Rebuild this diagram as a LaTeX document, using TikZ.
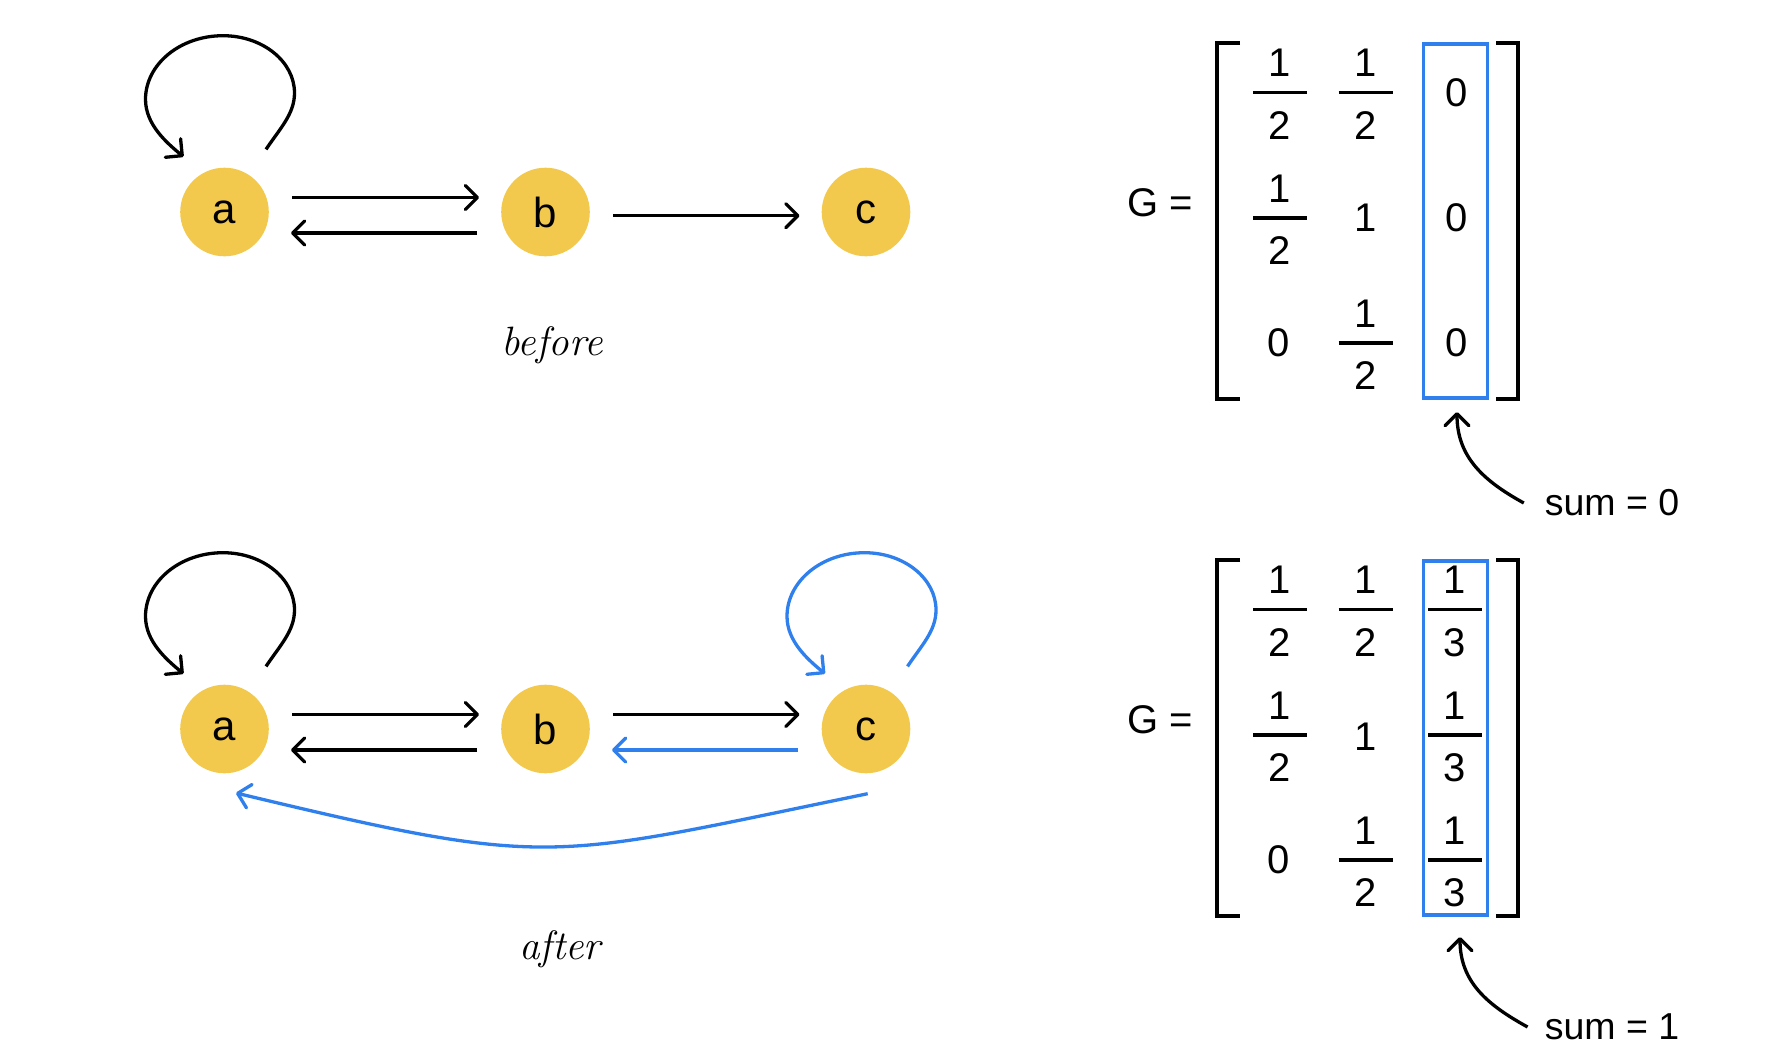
\documentclass[tikz,border=0pt]{standalone}
\usepackage{fontspec}
\newfontfamily\lib{Liberation Sans}
\usetikzlibrary{arrows.meta}
\definecolor{nodeyellow}{HTML}{F2C94C}
\definecolor{hlblue}{HTML}{2F80ED}
\tikzset{
  vert/.style={circle, fill=nodeyellow, minimum size=88.6pt, inner sep=0pt,
    font=\lib\fontsize{42}{50}\selectfont},
  conn/.style={line width=3.3pt, -{Straight Barb[length=12pt,width=24pt,round]}},
  ent/.style={inner sep=0pt, font=\lib\fontsize{40}{48}\selectfont},
  fracbar/.style={line width=3.1pt},
  bracket/.style={line width=3.5pt},
  colbox/.style={draw=hlblue, line width=3.2pt, minimum width=64pt, minimum height=354pt, inner sep=0pt},
  caption/.style={inner sep=0pt, anchor=base, font=\itshape\fontsize{41}{49}\selectfont},
  sumlabel/.style={inner sep=0pt, font=\lib\fontsize{37.5}{45}\selectfont},
}
\newcommand\myfrac[5]{%
  \node[ent] (#1n) at (#2,#3-29.5) {#4};
  \node[ent] (#1d) at (#2,#3+32.8) {#5};
  \draw[fracbar] (#2-27,#3) -- (#2+27,#3);
}
\newcommand\selfloop[2]{%
  \draw[conn,#2] ([shift={(41.5,-62.6)}]#1.center)
    .. controls +(14,-21) and +(0,21) .. ([shift={(70,-119)}]#1.center)
    .. controls +(0,-31.6) and +(39.5,0) .. ([shift={(-1.5,-176.3)}]#1.center)
    .. controls +(-42.8,0) and +(0,-35.2) .. ([shift={(-79,-112.6)}]#1.center)
    .. controls +(0,25) and +(-17,-14) .. ([shift={(-41,-55.3)}]#1.center);
}
\begin{document}
\begin{tikzpicture}[x=1pt,y=-1pt]
\useasboundingbox (0,0) rectangle (1780,1060);
% ---------- upper graph ----------
\node[vert] (a1) at (224.5,212) {a};
\node[vert] (b1) at (545.5,212) {b};
\node[vert] (c1) at (866,212) {c};
\draw[conn] ([xshift=23pt,yshift=14.5pt]a1.east) -- ([xshift=-22pt,yshift=14.5pt]b1.west);
\draw[conn] ([xshift=-24pt,yshift=-21pt]b1.west) -- ([xshift=22pt,yshift=-21pt]a1.east);
\draw[conn] ([xshift=23pt,yshift=-3.7pt]b1.east) -- ([xshift=-22pt,yshift=-3.7pt]c1.west);
\selfloop{a1}{black}
\node[caption] (before) at (552,355.5) {before};
% ---------- lower graph ----------
\node[vert] (a2) at (224.5,729) {a};
\node[vert] (b2) at (545.5,729) {b};
\node[vert] (c2) at (866,729) {c};
\draw[conn] ([xshift=23pt,yshift=14.5pt]a2.east) -- ([xshift=-22pt,yshift=14.5pt]b2.west);
\draw[conn] ([xshift=-24pt,yshift=-21pt]b2.west) -- ([xshift=22pt,yshift=-21pt]a2.east);
\draw[conn] ([xshift=23pt,yshift=14.5pt]b2.east) -- ([xshift=-22pt,yshift=14.5pt]c2.west);
\draw[conn,hlblue] ([xshift=-24pt,yshift=-21pt]c2.west) -- ([xshift=22pt,yshift=-21pt]b2.east);
\selfloop{a2}{black}
\selfloop{c2}{hlblue}
\draw[conn,hlblue] ([shift={(1.7,64.7)}]c2.center) .. controls +(-322,66) and +(320,76.7) .. ([shift={(11.5,64)}]a2.center);
\node[caption] (after) at (560,959) {after};
% ---------- upper matrix ----------
\node[ent] (G1) at (1160,203) {G =};
\draw[bracket] (1240,43) -- (1217,43) -- (1217,399) -- (1240,399);
\draw[bracket] (1496,43) -- (1518,43) -- (1518,399) -- (1496,399);
\node[colbox] (box1) at (1455.5,221) {};
\myfrac{u11}{1280}{92.4}{1}{2}
\myfrac{u12}{1365.5}{92.4}{1}{2}
\node[ent] (u13) at (1457,93) {0};
\myfrac{u21}{1280}{218}{1}{2}
\node[ent] (u22) at (1365.5,218) {1};
\node[ent] (u23) at (1457,218) {0};
\node[ent] (u31) at (1279,343) {0};
\myfrac{u32}{1365.5}{343}{1}{2}
\node[ent] (u33) at (1457,343) {0};
\node[sumlabel] (s1) at (1612,503) {sum = 0};
\draw[conn] ([xshift=-20.8pt]s1.west) .. controls +(-40,-22) and +(0,45) .. ([xshift=1.5pt,yshift=-12.5pt]box1.south);
% ---------- lower matrix ----------
\node[ent] (G2) at (1160,720) {G =};
\draw[bracket] (1240,560) -- (1217,560) -- (1217,916) -- (1240,916);
\draw[bracket] (1496,560) -- (1518,560) -- (1518,916) -- (1496,916);
\node[colbox] (box2) at (1455.5,738) {};
\myfrac{l11}{1280}{609.5}{1}{2}
\myfrac{l12}{1365.5}{609.5}{1}{2}
\myfrac{l13}{1455}{609.5}{1}{3}
\myfrac{l21}{1280}{735}{1}{2}
\node[ent] (l22) at (1365.5,737) {1};
\myfrac{l23}{1455}{735}{1}{3}
\node[ent] (l31) at (1279,860) {0};
\myfrac{l32}{1365.5}{860}{1}{2}
\myfrac{l33}{1455}{860}{1}{3}
\node[sumlabel] (s2) at (1612,1027) {sum = 1};
\draw[conn] ([xshift=-17pt]s2.west) .. controls +(-40,-22) and +(0,45) .. ([xshift=4.5pt,yshift=-20.5pt]box2.south);
\end{tikzpicture}
\end{document}
